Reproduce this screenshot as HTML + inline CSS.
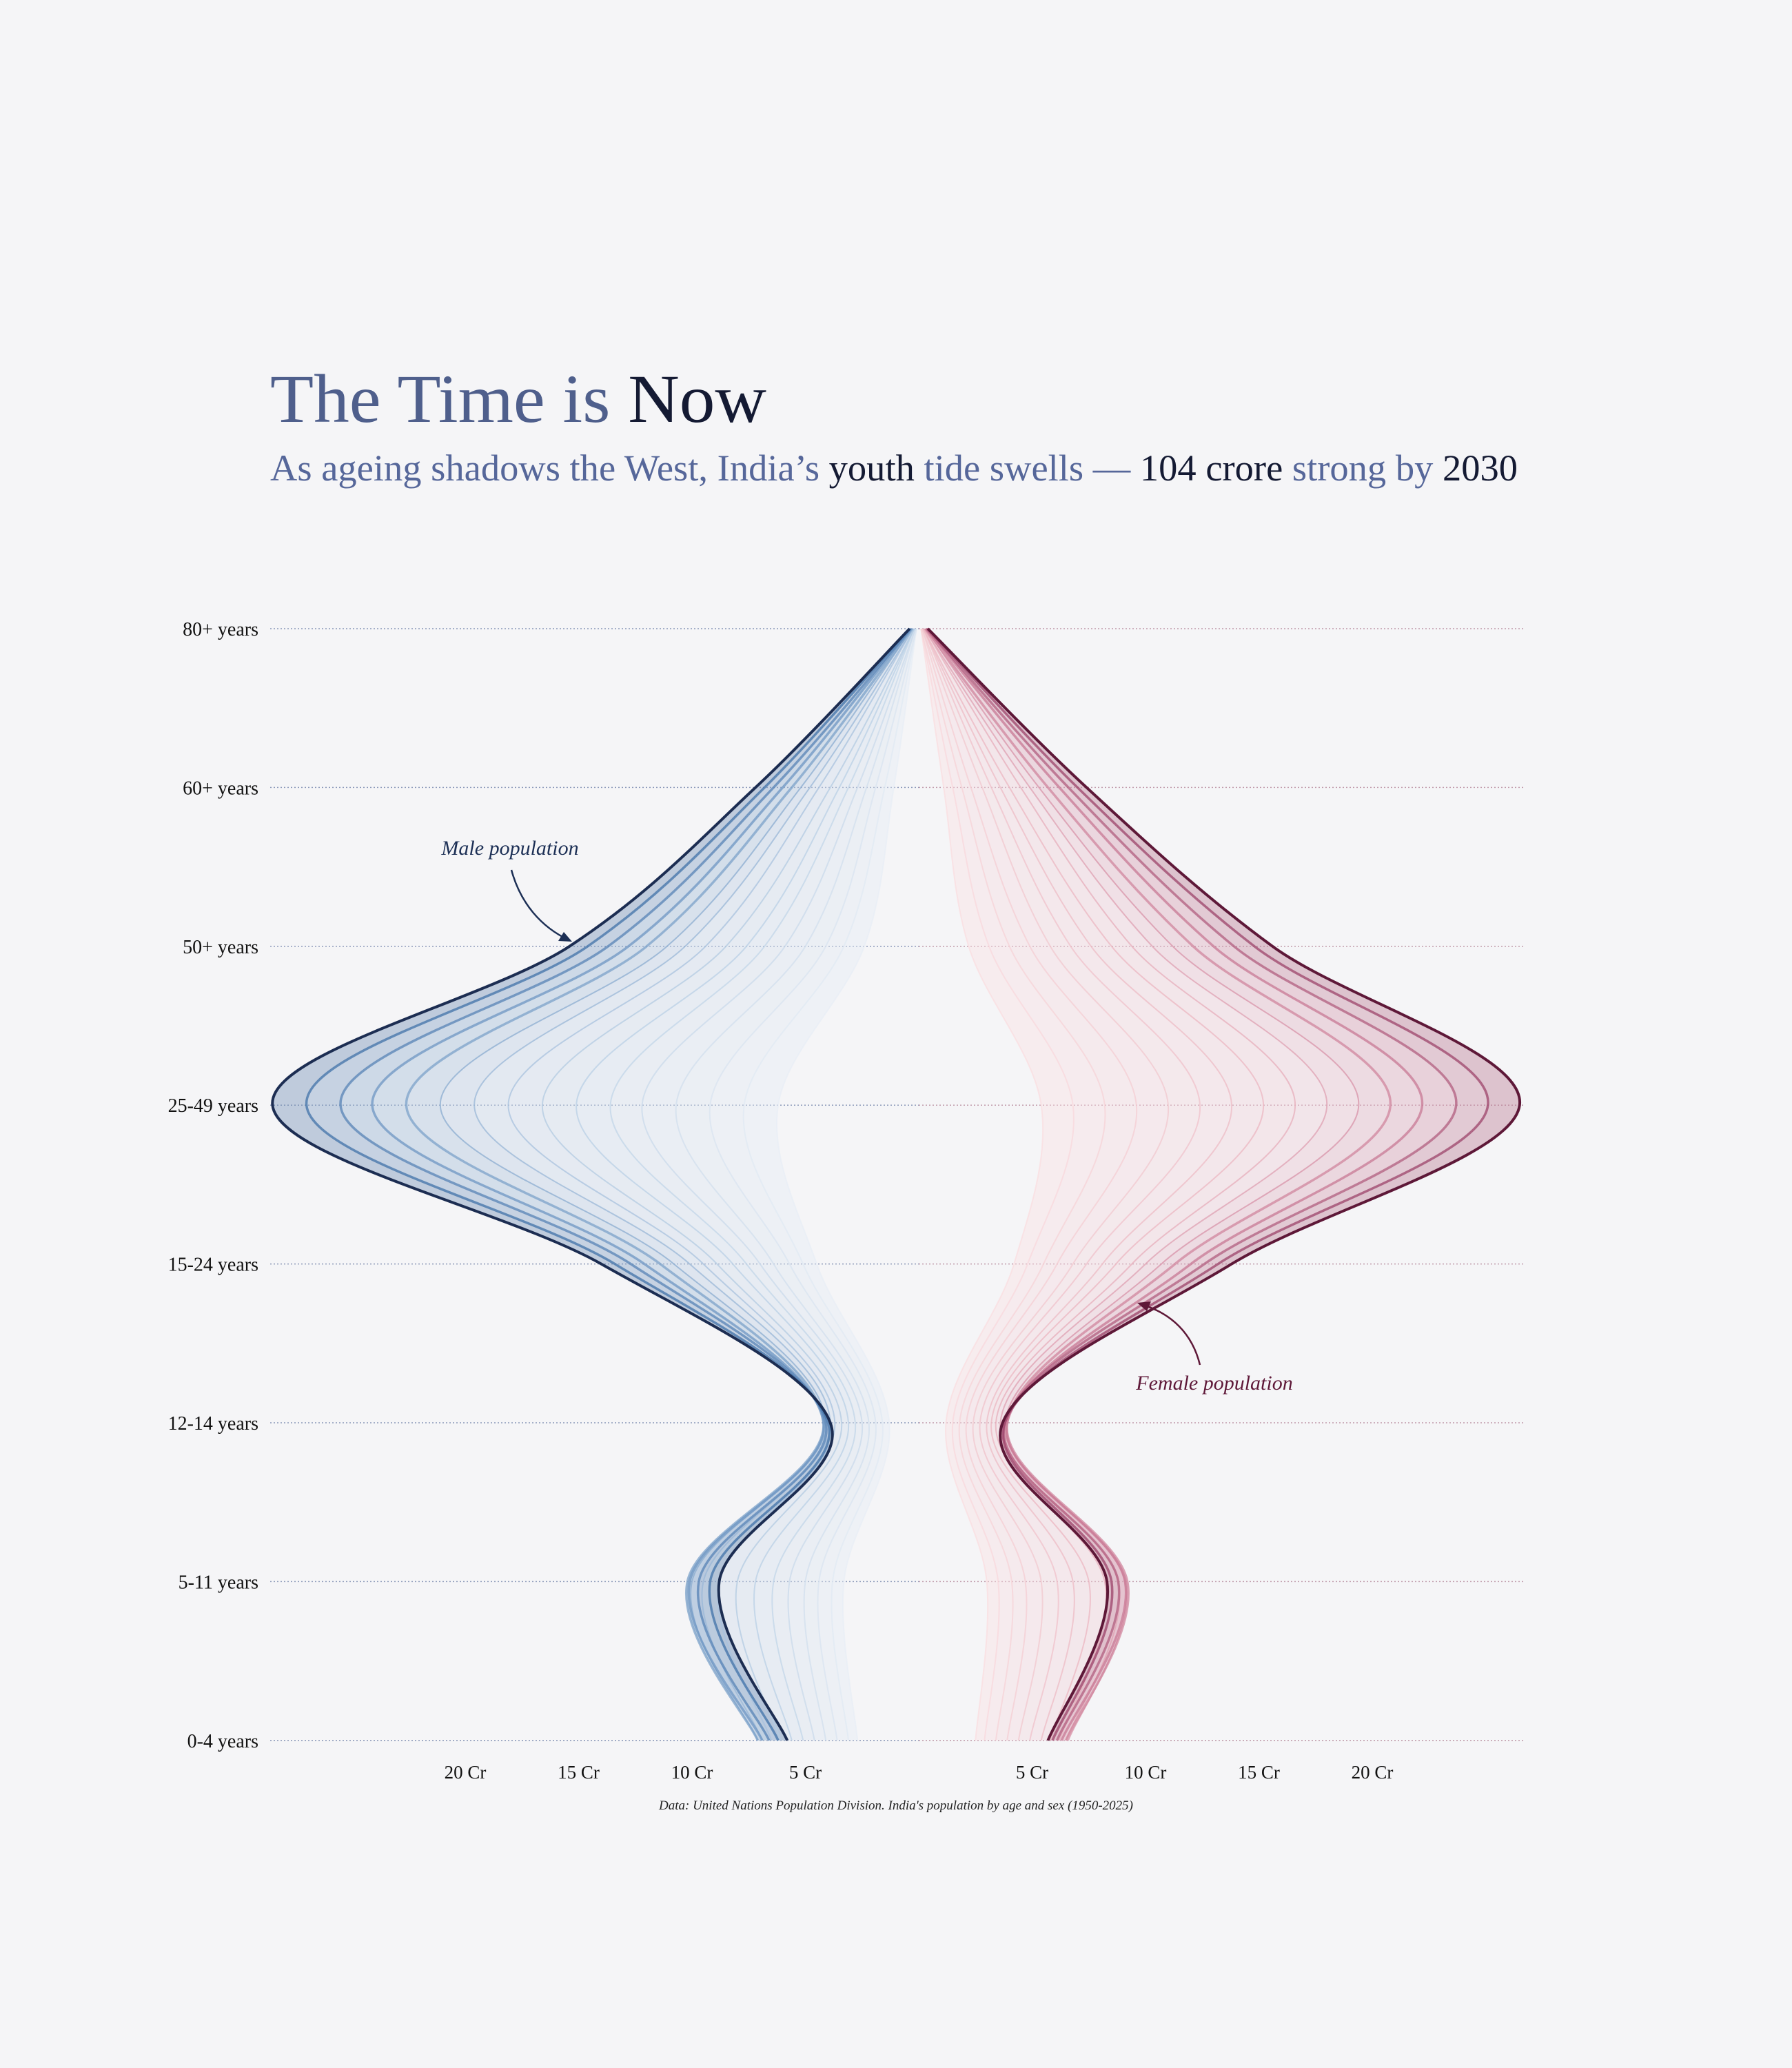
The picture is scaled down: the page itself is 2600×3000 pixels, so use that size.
<!DOCTYPE html>
<html><head><meta charset="utf-8"><style>
html,body{margin:0;padding:0;background:#f5f5f7;}
svg{display:block;}
</style></head><body>
<svg id="chart" width="2600" height="3000" viewBox="0 0 2600 3000" xmlns="http://www.w3.org/2000/svg">
<rect width="2600" height="3000" fill="#f5f5f7"/>
<text x="392" y="612" font-family="Liberation Serif, serif" font-size="100" textLength="720" lengthAdjust="spacingAndGlyphs" fill="#4f5f8c">The Time is <tspan fill="#141a33">Now</tspan></text>
<text x="392" y="697" font-family="Liberation Serif, serif" font-size="54" textLength="1810" lengthAdjust="spacingAndGlyphs" fill="#56679a">As ageing shadows the West, India’s <tspan fill="#141a33">youth</tspan> tide swells — <tspan fill="#141a33">104 crore</tspan> strong by <tspan fill="#141a33">2030</tspan></text>
<g id="grid"></g>
<g id="ylabels"></g>
<g id="male"></g>
<g id="female"></g>
<g id="xlabels"></g>
<text x="740" y="1240" text-anchor="middle" font-family="Liberation Serif, serif" font-style="italic" font-size="30" fill="#1c2f55">Male population</text>
<path d="M742,1262 C755,1310 785,1345 826,1364" fill="none" stroke="#1c2f55" stroke-width="2.5"/>
<path d="M830,1366 L810,1365 L818,1352 Z" fill="#1c2f55"/>
<text x="1762" y="2016" text-anchor="middle" font-family="Liberation Serif, serif" font-style="italic" font-size="30" fill="#5e1838">Female population</text>
<path d="M1741,1980 C1730,1935 1700,1905 1655,1892" fill="none" stroke="#5e1838" stroke-width="2.5"/>
<path d="M1650,1890 L1670,1888 L1664,1902 Z" fill="#5e1838"/>
<text x="1300" y="2625" text-anchor="middle" font-family="Liberation Serif, serif" font-style="italic" font-size="19" fill="#222">Data: United Nations Population Division. India's population by age and sex (1950-2025)</text>
</svg>
<script>
const ageLabels = ["80+ years","60+ years","50+ years","25-49 years","15-24 years","12-14 years","5-11 years","0-4 years"];
const years = [1950,1955,1960,1965,1970,1975,1980,1985,1990,1995,2000,2005,2010,2015,2020,2025];
const maleValues = [
 [0.1,1.1,2.4,6.2,4.5,1.3,3.3,2.7],
 [0.1,1.5,3.3,7.7,5.1,1.6,3.8,3.1],
 [0.1,1.9,4.1,9.2,5.7,1.9,4.4,3.6],
 [0.15,2.3,5.0,10.7,6.4,2.2,5.0,4.1],
 [0.15,2.7,5.9,12.2,7.0,2.5,5.7,4.6],
 [0.2,3.1,6.8,13.6,7.6,2.8,6.4,5.1],
 [0.2,3.5,7.6,15.1,8.2,3.1,7.2,5.6],
 [0.2,3.9,8.5,16.6,8.9,3.4,8.0,6.1],
 [0.25,4.4,9.4,18.1,9.5,3.7,8.8,6.5],
 [0.25,4.8,10.3,19.6,10.1,3.9,9.5,6.9],
 [0.3,5.2,11.1,21.1,10.8,4.1,10.0,7.1],
 [0.3,5.6,12.0,22.6,11.4,4.2,10.2,7.1],
 [0.35,6.0,12.8,24.1,12.1,4.2,10.1,6.9],
 [0.35,6.4,13.7,25.5,12.7,4.1,9.7,6.6],
 [0.4,6.8,14.6,27.0,13.4,4.0,9.2,6.2],
 [0.4,7.2,15.4,28.5,14.0,3.9,8.8,5.8]
];
const femaleValues = [
 [0.1,1.1,2.2,5.4,4.2,1.2,3.0,2.5],
 [0.1,1.5,3.1,6.8,4.8,1.5,3.5,2.9],
 [0.1,1.9,4.0,8.2,5.5,1.8,4.1,3.4],
 [0.15,2.3,4.9,9.6,6.1,2.1,4.7,3.9],
 [0.15,2.8,5.8,11.0,6.8,2.4,5.4,4.4],
 [0.2,3.2,6.7,12.4,7.4,2.7,6.1,4.9],
 [0.2,3.6,7.6,13.8,8.1,3.0,6.8,5.4],
 [0.2,4.0,8.5,15.2,8.7,3.2,7.5,5.8],
 [0.25,4.5,9.4,16.6,9.4,3.4,8.2,6.2],
 [0.25,4.9,10.3,18.0,10.0,3.6,8.8,6.5],
 [0.3,5.3,11.2,19.4,10.7,3.8,9.1,6.6],
 [0.3,5.7,12.1,20.8,11.3,3.9,9.2,6.5],
 [0.35,6.2,13.0,22.2,12.0,3.9,9.1,6.3],
 [0.35,6.6,13.9,23.7,12.6,3.8,8.8,6.1],
 [0.4,7.0,14.8,25.1,13.2,3.8,8.5,5.9],
 [0.4,7.4,15.6,26.5,13.8,3.7,8.3,5.7]
];
const tickValues = [5,10,15,20];
const tickLabels = ["5 Cr","10 Cr","15 Cr","20 Cr"];

const NS = "http://www.w3.org/2000/svg";
const CX = 1333, PX_PER_CR = 32.9, Y0 = 912, YSTEP = 230.4;
const xMale = v => CX - v * PX_PER_CR;
const xFemale = v => CX + v * PX_PER_CR;
const yAge = i => Y0 + i * YSTEP;

function mk(tag, parent, attrs){const e=document.createElementNS(NS,tag);for(const k in attrs)e.setAttribute(k,attrs[k]);parent.appendChild(e);return e;}
function catmull(pts, move){
  let d = (move===false?" L":"M")+pts[0][0].toFixed(1)+","+pts[0][1].toFixed(1);
  for(let i=0;i<pts.length-1;i++){
    const p0=pts[Math.max(0,i-1)],p1=pts[i],p2=pts[i+1],p3=pts[Math.min(pts.length-1,i+2)];
    const c1=[p1[0]+(p2[0]-p0[0])/6,p1[1]+(p2[1]-p0[1])/6];
    const c2=[p2[0]-(p3[0]-p1[0])/6,p2[1]-(p3[1]-p1[1])/6];
    d+=" C"+c1[0].toFixed(1)+","+c1[1].toFixed(1)+" "+c2[0].toFixed(1)+","+c2[1].toFixed(1)+" "+p2[0].toFixed(1)+","+p2[1].toFixed(1);
  }
  return d;
}
function lerpColor(stops,t){
  for(let i=0;i<stops.length-1;i++){
    if(t<=stops[i+1][0]){const a=stops[i],b=stops[i+1];const u=(t-a[0])/(b[0]-a[0]);
      const c=a[1].map((v,k)=>Math.round(v+(b[1][k]-v)*u));return "rgb("+c.join(",")+")";}
  }
  return "rgb("+stops[stops.length-1][1].join(",")+")";
}
const maleStops=[[0,[232,238,246]],[0.5,[175,200,225]],[0.8,[110,150,195]],[0.95,[58,108,165]],[1,[28,45,82]]];
const femaleStops=[[0,[250,222,224]],[0.5,[235,180,192]],[0.8,[200,120,148]],[0.95,[150,60,100]],[1,[94,24,56]]];
const maleBandStops=[[0,[232,238,246]],[0.6,[200,215,232]],[0.85,[150,180,212]],[1,[110,140,180]]];
const femaleBandStops=[[0,[250,225,228]],[0.6,[238,205,214]],[0.85,[215,160,180]],[1,[185,120,145]]];

const grid=document.getElementById("grid"), yl=document.getElementById("ylabels");
ageLabels.forEach((lab,i)=>{
  const l=mk("line",grid,{x1:392,x2:CX,y1:yAge(i),y2:yAge(i),stroke:"#8a98b8","stroke-width":1.5,"stroke-dasharray":"2,3"});
  
  
  const r=mk("line",grid,{x1:CX,x2:2210,y1:yAge(i),y2:yAge(i),stroke:"#c09aaa","stroke-width":1.5,"stroke-dasharray":"2,3"});
  
  
  const t=mk("text",yl,{x:375,y:yAge(i)+10,"text-anchor":"end","font-family":"Liberation Serif, serif","font-size":28,fill:"#111"});
  t.textContent=lab;
  
  
});

function drawSide(gid,vals,xf,stops,bandStops,name){
  const g=document.getElementById(gid);
  for(let j=1;j<vals.length;j++){
    const t=j/(vals.length-1);
    const outer=vals[j].map((v,i)=>[xf(v),yAge(i)]);
    const inner=vals[j-1].map((v,i)=>[xf(v),yAge(i)]).reverse();
    const f=mk("path",g,{d:catmull(outer)+catmull(inner,false)+" Z",fill:lerpColor(bandStops,t),"fill-opacity":0.4,stroke:"none"});
    
    
  }
  vals.forEach((row,j)=>{
    const t=j/(vals.length-1);
    const pts=row.map((v,i)=>[xf(v),yAge(i)]);
    const last=j===vals.length-1;
    const p=mk("path",g,{d:catmull(pts),fill:"none",stroke:lerpColor(stops,t),"stroke-width":last?4:(t>0.7?3.5:2),"stroke-opacity":last?1:0.75});
    
    
  });
}
drawSide("male",maleValues,xMale,maleStops,maleBandStops,"male");
drawSide("female",femaleValues,xFemale,femaleStops,femaleBandStops,"female");

const xl=document.getElementById("xlabels");
tickValues.forEach((v,i)=>{
  [xMale(v),xFemale(v)].forEach(x=>{
    const t=mk("text",xl,{x:x,y:2580,"text-anchor":"middle","font-family":"Liberation Serif, serif","font-size":27,fill:"#111"});
    t.textContent=tickLabels[i];
    
    
  });
});
</script>
</body></html>
